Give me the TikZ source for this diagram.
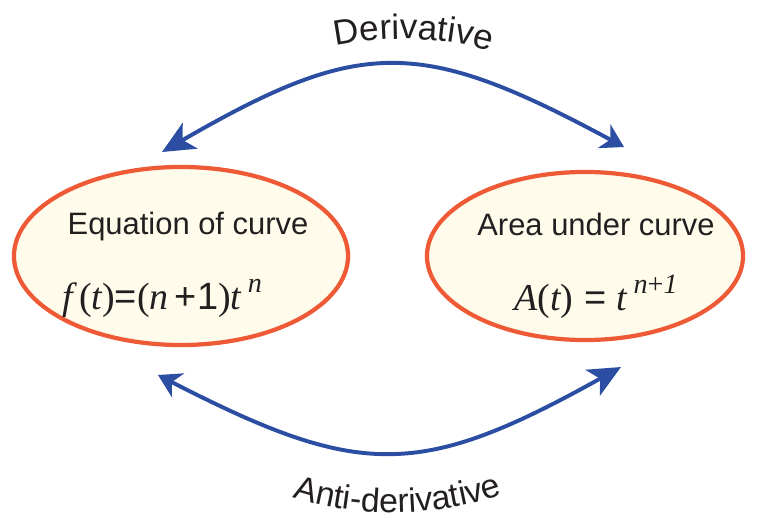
\documentclass[tikz,border=0pt]{standalone}
\usepackage{fontspec}
\setmainfont{Liberation Sans}
\newfontfamily\timesfont{Liberation Serif}
\usetikzlibrary{arrows.meta,shapes.geometric,decorations.text}

\definecolor{ovalline}{HTML}{EE5A36}
\definecolor{ovalfill}{HTML}{FFFCEC}
\definecolor{arcblue}{HTML}{2B4EA2}
\definecolor{inkgrey}{HTML}{231F20}

\newcommand{\vr}[1]{{\timesfont\itshape #1}}
\newcommand{\sups}[1]{\raisebox{12pt}{\fontsize{20}{20}\selectfont #1}}

\tikzset{
    oval/.style={ellipse, draw=ovalline, fill=ovalfill, line width=3pt, inner sep=0pt},
    caption/.style={text=inkgrey, anchor=base, font=\fontsize{22}{26}\selectfont},
    formula/.style={text=inkgrey, anchor=base, font=\fontsize{27}{30}\selectfont},
    flow/.style={draw=arcblue, line width=2.8pt,
        {Stealth[length=16pt,width=19pt,inset=5pt]}-{Stealth[length=23pt,width=21pt,inset=6pt]}},
}

\begin{document}
\begin{tikzpicture}[x=0.025cm, y=-0.025cm]

\useasboundingbox (0,0) rectangle (757,520);

% Equation of curve
\node[oval, minimum width=8.35cm, minimum height=4.45cm] (eq) at (181,256) {};
\node[caption] (eqname) at (188,234) {Equation of curve};
\node[formula] (eqform) at (162,309)
{\vr{f}\,{\timesfont(\vr{t})}={\timesfont(}\vr{n}\,+1{\timesfont)}\vr{t}\,\sups{\vr{n}}};

% Area under curve
\node[oval, minimum width=7.9cm, minimum height=4.2cm] (area) at (585,256) {};
\node[caption] (areaname) at (596,235) {Area under curve};
\node[formula] (areaform) at (596,310)
{\vr{A}{\timesfont(\vr{t})} = \vr{t}\,\sups{\vr{n}{\timesfont+}\vr{1}}};

% Derivative
\coordinate (dtail) at (624,147);
\coordinate (dhead) at (162,152);
\draw[flow] (dtail) .. controls (420,37) and (361,37) .. (dhead);
\path[decorate, decoration={text along path, text align=center,
    text={|\fontsize{25}{28}\selectfont\color{inkgrey}|Derivative}}]
    (295,56) .. controls (370,32) and (450,32) .. (530,64);

% Anti-derivative
\coordinate (atail) at (158,375);
\coordinate (ahead) at (621,367);
\draw[flow] (atail) .. controls (360,479) and (420,479) .. (ahead);
\path[decorate, decoration={text along path, text align=center,
    text={|\fontsize{24}{27}\selectfont\color{inkgrey}|Anti-derivative}}]
    (265,486) .. controls (340,522) and (450,522) .. (530,483);

\end{tikzpicture}
\end{document}
